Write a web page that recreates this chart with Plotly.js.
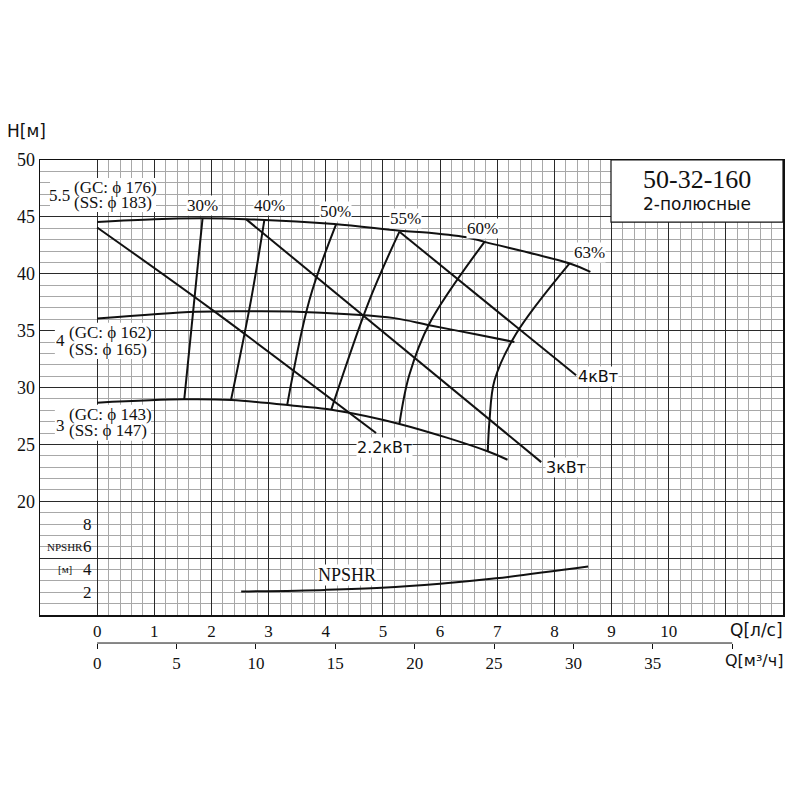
<!DOCTYPE html>
<html>
<head>
<meta charset="utf-8">
<script src="https://cdn.plot.ly/plotly-3.0.1.min.js"></script>
<style>html,body{margin:0;padding:0;background:#fff;}#chart{width:800px;height:800px;}</style>
</head>
<body>
<div id="chart"></div>
<script>
// ---- data (Q in l/s, H in m) ----
const qImp176 = [0, 1.0, 1.84, 2.6, 4.15, 5.3, 5.81, 6.52, 6.78, 8.27, 8.63];
const hImp176 = [44.56, 44.8, 44.87, 44.8, 44.37, 43.78, 43.6, 43.15, 42.8, 40.9, 40.17];
const qImp162 = [0, 1.74, 2.66, 3.5, 4.4, 5.2, 5.81, 6.6, 7.3];
const hImp162 = [36.06, 36.65, 36.7, 36.67, 36.44, 36.1, 35.48, 34.7, 34.0];
const qImp143 = [0, 1.52, 2.35, 3.54, 4.1, 5.29, 6.83, 7.18];
const hImp143 = [28.67, 28.96, 28.9, 28.35, 28.05, 26.8, 24.4, 23.65];

const qP22 = [0, 2.02, 4.88];
const hP22 = [44.07, 36.8, 26.0];
const qP3 = [2.61, 7.77];
const hP3 = [44.78, 23.44];
const qP4 = [5.29, 8.38];
const hP4 = [43.69, 31.07];

const qEff30 = [1.844, 1.524];
const hEff30 = [44.87, 28.96];
const qEff40 = [2.925, 2.692, 2.342];
const hEff40 = [44.72, 37.68, 28.90];
const qEff50 = [4.18, 3.713, 3.327];
const hEff50 = [44.34, 37.68, 28.52];
const qEff55 = [5.289, 4.764, 4.098];
const hEff55 = [43.71, 37.68, 28.08];
const qEff60 = [6.778, 5.814, 5.46, 5.289];
const hEff60 = [42.81, 35.63, 31.07, 26.82];
const qEff63 = [8.266, 7.333, 6.953, 6.865, 6.835];
const hEff63 = [40.91, 34.74, 30.63, 27.11, 24.41];

const qNpsh = [2.52, 4.0, 4.98, 6.0, 6.98, 8.59];
const npsh = [2.06, 2.21, 2.39, 2.75, 3.23, 4.26];

const effLabels = ['30%', '40%', '50%', '55%', '60%', '63%'];
const effLabelQ = [1.84, 3.01, 4.17, 5.39, 6.74, 8.62];
const effLabelH = [46.04, 46.04, 45.51, 44.9, 44.0, 41.9];

const kwLabels = ['2.2кВт', '3кВт', '4кВт'];
const kwLabelQ = [5.03, 8.21, 8.77];
const kwLabelH = [24.74, 22.98, 30.99];

const lsTicks = [0,1,2,3,4,5,6,7,8,9,10,11];
const lsTickText = ['0','1','2','3','4','5','6','7','8','9','10',''];
const hTicks = [15,20,25,30,35,40,45,50];
const hTickText = ['','20','25','30','35','40','45','50'];
const npshTicks = [2,4,6,8];
const m3hTicks = [0,5,10,15,20,25,30,35,40];
const m3hTickText = ['0','5','10','15','20','25','30','35',''];
const m3hAxisEnd = 40;

const impKw = ['5.5', '4', '3'];
const impGC = ['(GC: ϕ 176)', '(GC: ϕ 162)', '(GC: ϕ 143)'];
const impSS = ['(SS: ϕ 183)', '(SS: ϕ 165)', '(SS: ϕ 147)'];
const impKwH = [46.92, 34.11, 26.7];
const impGcH = [47.56, 34.85, 27.64];
const impSsH = [46.28, 33.36, 26.18];
const impTextQ = [-0.44, -0.53, -0.53];

// ---- grid helper positions ----
const minorX = [];
for (let i = 1; i < 60; i++) { if (i % 5 !== 0) minorX.push(i * 0.2); }
const minorY = [];
for (let v = 11; v < 50; v++) { if (v % 5 !== 0) minorY.push(v); }
const X_RANGE = [-1, 12];
const M3H_PER_LS = 3.6;

const serif = 'Liberation Serif, Times New Roman, serif';
const sans = 'DejaVu Sans, Liberation Sans, sans-serif';
const LW = 2;

function line(x, y, spline) {
  return {x: x, y: y, type: 'scatter', mode: 'lines', hoverinfo: 'skip',
    line: {color: '#111', width: LW, shape: spline ? 'spline' : 'linear', smoothing: 1.0}, showlegend: false};
}

const traces = [
  line(qImp176, hImp176, true),
  line(qImp162, hImp162, true),
  line(qImp143, hImp143, true),
  line(qP22, hP22, true),
  line(qP3, hP3, false),
  line(qP4, hP4, false),
  line(qEff30, hEff30, false),
  line(qEff40, hEff40, true),
  line(qEff50, hEff50, true),
  line(qEff55, hEff55, true),
  line(qEff60, hEff60, true),
  line(qEff63, hEff63, true),
  line(qNpsh, npsh.map(v => v + 10), true),
  // m3/h axis carrier
  {x: [0, m3hAxisEnd], y: [20, 20], xaxis: 'x2', yaxis: 'y', type: 'scatter', mode: 'markers',
   marker: {opacity: 0}, hoverinfo: 'skip', showlegend: false}
];

const shapes = [
  {type: 'rect', xref: 'paper', yref: 'paper', x0: 0.7685, x1: 1.0, y0: 0.878, y1: 1.0,
   fillcolor: '#fff', line: {color: '#111', width: 1.2}, layer: 'above'},
  {type: 'line', xref: 'x2', yref: 'paper', x0: 0, x1: m3hAxisEnd, y0: 0.0529, y1: 0.0529,
   line: {color: '#111', width: 1}}
];

const annotations = [];
effLabels.forEach((t, i) => annotations.push({x: effLabelQ[i], y: effLabelH[i], xref: 'x', yref: 'y',
  text: t, showarrow: false, font: {family: serif, size: 17, color: '#111'}, bgcolor: '#fff', borderpad: 0}));
kwLabels.forEach((t, i) => annotations.push({x: kwLabelQ[i], y: kwLabelH[i], xref: 'x', yref: 'y',
  text: t, showarrow: false, font: {family: sans, size: 16, color: '#111'}, bgcolor: '#fff', borderpad: 0}));
impKw.forEach((t, i) => {
  // white backing block behind the impeller label
  shapes.push({type: 'rect', xref: 'x', yref: 'y', layer: 'above',
    x0: impTextQ[i], x1: impTextQ[i], xsizemode: 'pixel', xanchor: impTextQ[i],
    y0: impSsH[i] - 0.85, y1: impGcH[i] + 0.85,
    fillcolor: '#fff', line: {width: 0}});
  const s = shapes[shapes.length - 1];
  s.xsizemode = 'pixel'; s.xanchor = impTextQ[i]; s.x0 = i === 0 ? -22 : -12; s.x1 = 84;
  annotations.push({x: impTextQ[i], y: impKwH[i], xref: 'x', yref: 'y', text: t, showarrow: false,
    xanchor: 'right', font: {family: serif, size: 17, color: '#111'}});
  annotations.push({x: impTextQ[i], y: impGcH[i], xref: 'x', yref: 'y', text: impGC[i], showarrow: false,
    xanchor: 'left', font: {family: serif, size: 17, color: '#111'}});
  annotations.push({x: impTextQ[i], y: impSsH[i], xref: 'x', yref: 'y', text: impSS[i], showarrow: false,
    xanchor: 'left', font: {family: serif, size: 17, color: '#111'}});
});
npshTicks.forEach(v => annotations.push({x: 0, y: 10 + v, xref: 'x', yref: 'y', text: String(v), showarrow: false,
  xanchor: 'right', xshift: -3, font: {family: serif, size: 17, color: '#111'}}));
annotations.push({x: -0.57, y: 15.98, xref: 'x', yref: 'y', text: 'NPSHR', showarrow: false,
  font: {family: serif, size: 11, color: '#111'}});
annotations.push({x: -0.57, y: 14.04, xref: 'x', yref: 'y', text: '[м]', showarrow: false,
  font: {family: serif, size: 11, color: '#111'}});
annotations.push({x: 4.37, y: 13.52, xref: 'x', yref: 'y', text: 'NPSHR', showarrow: false,
  font: {family: serif, size: 18, color: '#111'}, bgcolor: '#fff', borderpad: 0});
annotations.push({x: -0.047, y: 1.057, xref: 'paper', yref: 'paper', text: 'H[м]', showarrow: false,
  xanchor: 'left', yanchor: 'middle', font: {family: sans, size: 17, color: '#111'}});
annotations.push({x: 1.003, y: 0.078, xref: 'paper', yref: 'paper', text: 'Q[л/с]', showarrow: false,
  xanchor: 'right', yanchor: 'middle', font: {family: sans, size: 17, color: '#111'}});
annotations.push({x: 1.003, y: 0.0196, xref: 'paper', yref: 'paper', text: 'Q[м³/ч]', showarrow: false,
  xanchor: 'right', yanchor: 'middle', font: {family: sans, size: 16, color: '#111'}});
annotations.push({x: 0.8845, y: 0.961, xref: 'paper', yref: 'paper', text: '50-32-160', showarrow: false,
  xanchor: 'center', yanchor: 'middle', font: {family: serif, size: 26, color: '#111'}});
annotations.push({x: 0.8845, y: 0.914, xref: 'paper', yref: 'paper', text: '2-полюсные', showarrow: false,
  xanchor: 'center', yanchor: 'middle', font: {family: sans, size: 17, color: '#111'}});

const layout = {
  width: 800, height: 800,
  margin: {l: 40, r: 17, t: 160, b: 130, autoexpand: false},
  paper_bgcolor: '#fff', plot_bgcolor: '#fff',
  showlegend: false,
  xaxis: {range: X_RANGE, tickmode: 'array', tickvals: lsTicks, ticktext: lsTickText,
    showgrid: true, gridcolor: '#2a2a2a', gridwidth: 1, zeroline: false,
    showline: true, linecolor: '#111', linewidth: 1.5, mirror: true, ticks: '',
    tickfont: {family: serif, size: 17, color: '#111'},
    minor: {tickmode: 'array', tickvals: minorX, showgrid: true, gridcolor: '#a8a8a8', gridwidth: 1, ticks: ''},
    automargin: false, fixedrange: true},
  yaxis: {range: [10, 50], domain: [0.1078, 1], tickmode: 'array', tickvals: hTicks, ticktext: hTickText,
    showgrid: true, gridcolor: '#2a2a2a', gridwidth: 1, zeroline: false,
    showline: true, linecolor: '#111', linewidth: 1.5, mirror: true, ticks: '',
    tickfont: {family: serif, size: 18, color: '#111'},
    minor: {tickmode: 'array', tickvals: minorY, showgrid: true, gridcolor: '#a8a8a8', gridwidth: 1, ticks: ''},
    automargin: false, fixedrange: true},
  xaxis2: {range: X_RANGE.map(v => v * M3H_PER_LS), overlaying: 'x', anchor: 'free', position: 0.0529,
    tickmode: 'array', tickvals: m3hTicks, ticktext: m3hTickText, showgrid: false, zeroline: false,
    showline: false, ticks: 'outside', ticklen: 5, tickcolor: '#111', tickwidth: 1,
    tickfont: {family: serif, size: 17, color: '#111'}, automargin: false, fixedrange: true},
  shapes: shapes,
  annotations: annotations
};

Plotly.newPlot('chart', traces, layout, {staticPlot: true, displayModeBar: false});
</script>
</body>
</html>
